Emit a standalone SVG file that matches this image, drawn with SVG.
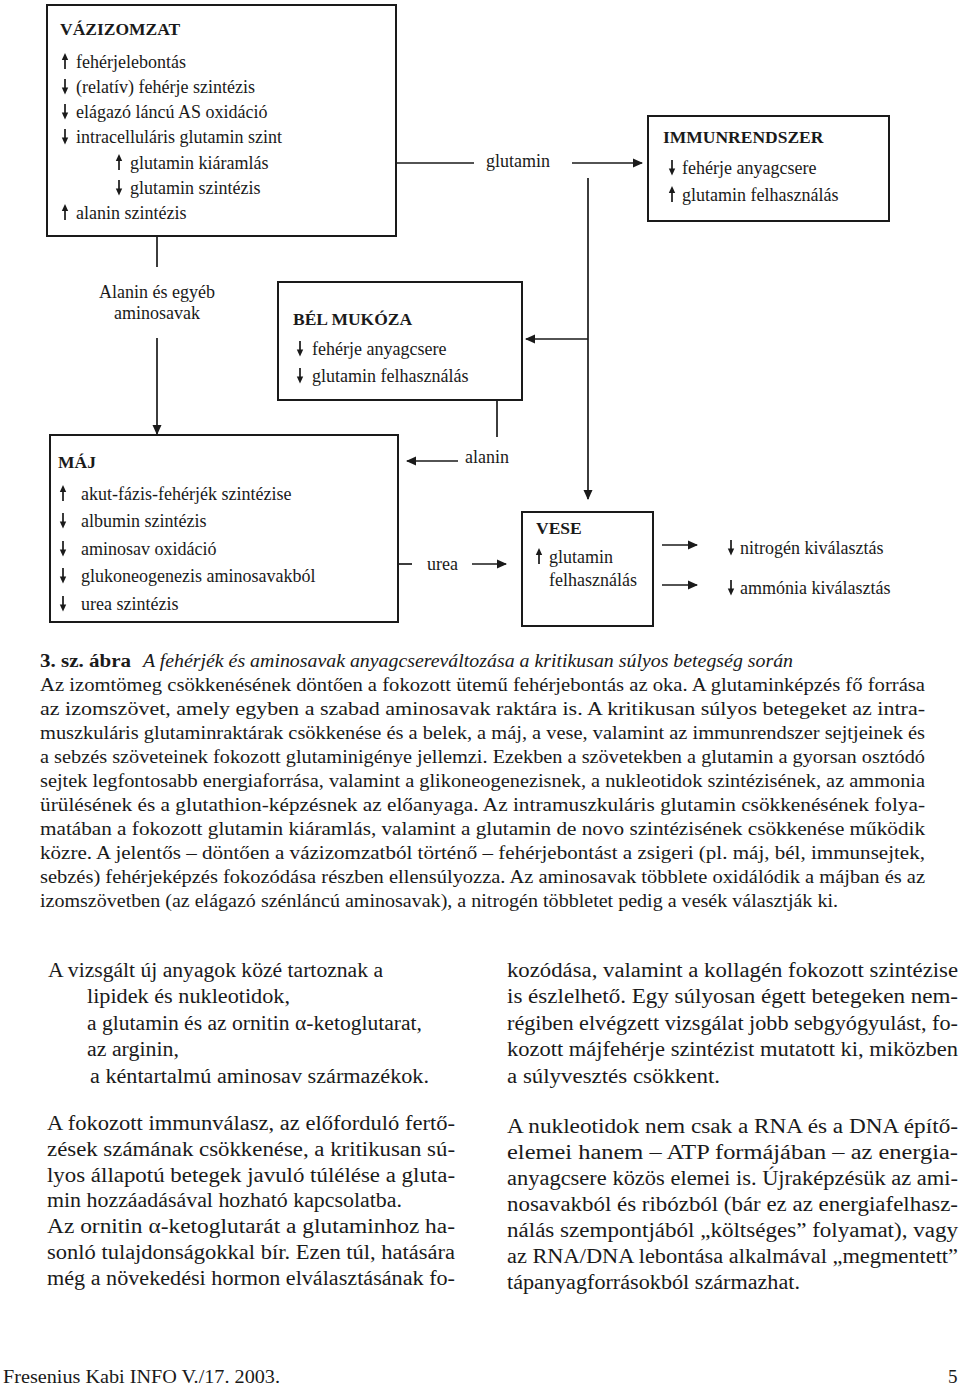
<svg xmlns="http://www.w3.org/2000/svg" width="960" height="1390" viewBox="0 0 960 1390">
<style>
.box{fill:none;stroke:#1a1a1a;stroke-width:2}
.ln{fill:none;stroke:#1a1a1a;stroke-width:1.7}
.t{font-family:"Liberation Serif","Times New Roman",serif;font-size:18px;fill:#1a1a1a}
.h{font-family:"Liberation Serif","Times New Roman",serif;font-size:17.5px;font-weight:bold;fill:#1a1a1a}
.cap{font-family:"Liberation Serif","Times New Roman",serif;font-size:18.5px;fill:#1a1a1a}
.col{font-family:"Liberation Serif","Times New Roman",serif;font-size:20.5px;fill:#1a1a1a}
.ft{font-family:"Liberation Serif","Times New Roman",serif;font-size:19px;fill:#1a1a1a}
</style>
<defs>
<marker id="ah" viewBox="0 0 10 10" refX="9" refY="5" markerWidth="11" markerHeight="10" markerUnits="userSpaceOnUse" orient="auto">
<path d="M0,0.5 L10,5 L0,9.5 Z" fill="#1a1a1a"/>
</marker>
<g id="up"><rect x="-0.85" y="-10" width="1.7" height="11" fill="#1a1a1a"/><path d="M0,-15 L3.2,-8 L-3.2,-8 Z" fill="#1a1a1a"/></g>
<g id="dn"><rect x="-0.85" y="-14" width="1.7" height="11" fill="#1a1a1a"/><path d="M0,1.5 L3.2,-5.5 L-3.2,-5.5 Z" fill="#1a1a1a"/></g>
</defs>

<g id="vazizomzat">
<rect class="box" x="47" y="5" width="349" height="231"/>
<text class="h" x="60" y="35">VÁZIZOMZAT</text>
<use href="#up" x="65" y="68"/><text class="t" x="76" y="68">fehérjelebontás</text>
<use href="#dn" x="65" y="93"/><text class="t" x="76" y="93">(relatív) fehérje szintézis</text>
<use href="#dn" x="65" y="118"/><text class="t" x="76" y="118">elágazó láncú AS oxidáció</text>
<use href="#dn" x="65" y="143"/><text class="t" x="76" y="143">intracelluláris glutamin szint</text>
<use href="#up" x="119" y="169"/><text class="t" x="130" y="169">glutamin kiáramlás</text>
<use href="#dn" x="119" y="194"/><text class="t" x="130" y="194">glutamin szintézis</text>
<use href="#up" x="65" y="219"/><text class="t" x="76" y="219">alanin szintézis</text>
</g>

<g id="immunrendszer">
<rect class="box" x="648" y="116" width="241" height="105"/>
<text class="h" x="663" y="143">IMMUNRENDSZER</text>
<use href="#dn" x="672" y="174"/><text class="t" x="682" y="174">fehérje anyagcsere</text>
<use href="#up" x="672" y="201"/><text class="t" x="682" y="201">glutamin felhasználás</text>
</g>

<g id="bel-mukoza">
<rect class="box" x="278" y="282" width="244" height="118"/>
<text class="h" x="293" y="325">BÉL MUKÓZA</text>
<use href="#dn" x="300" y="355"/><text class="t" x="312" y="355">fehérje anyagcsere</text>
<use href="#dn" x="300" y="382"/><text class="t" x="312" y="382">glutamin felhasználás</text>
</g>

<g id="maj">
<rect class="box" x="50" y="435" width="348" height="187"/>
<text class="h" x="58" y="468">MÁJ</text>
<use href="#up" x="63" y="500"/><text class="t" x="81" y="500">akut-fázis-fehérjék szintézise</text>
<use href="#dn" x="63" y="527"/><text class="t" x="81" y="527">albumin szintézis</text>
<use href="#dn" x="63" y="555"/><text class="t" x="81" y="555">aminosav oxidáció</text>
<use href="#dn" x="63" y="582"/><text class="t" x="81" y="582">glukoneogenezis aminosavakból</text>
<use href="#dn" x="63" y="610"/><text class="t" x="81" y="610">urea szintézis</text>
</g>

<g id="vese">
<rect class="box" x="522" y="512" width="131" height="114"/>
<text class="h" x="536" y="534">VESE</text>
<use href="#up" x="539" y="563"/><text class="t" x="549" y="563">glutamin</text>
<text class="t" x="549" y="586">felhasználás</text>
</g>

<g id="kivalasztas">
<use href="#dn" x="731" y="554"/><text class="t" x="740" y="554">nitrogén kiválasztás</text>
<use href="#dn" x="731" y="594"/><text class="t" x="740" y="594">ammónia kiválasztás</text>
</g>

<g id="connectors">
<line class="ln" x1="396" y1="163" x2="474" y2="163"/>
<text class="t" x="486" y="167">glutamin</text>
<line class="ln" x1="572" y1="163" x2="642" y2="163" marker-end="url(#ah)"/>
<line class="ln" x1="588" y1="178" x2="588" y2="499" marker-end="url(#ah)"/>
<line class="ln" x1="588" y1="339" x2="526" y2="339" marker-end="url(#ah)"/>
<line class="ln" x1="157" y1="236" x2="157" y2="267"/>
<text class="t" x="157" y="298" text-anchor="middle">Alanin és egyéb</text>
<text class="t" x="157" y="319" text-anchor="middle">aminosavak</text>
<line class="ln" x1="157" y1="338" x2="157" y2="434" marker-end="url(#ah)"/>
<line class="ln" x1="497" y1="400" x2="497" y2="437"/>
<text class="t" x="465" y="463">alanin</text>
<line class="ln" x1="458" y1="461" x2="407" y2="461" marker-end="url(#ah)"/>
<line class="ln" x1="398" y1="564" x2="412" y2="564"/>
<text class="t" x="427" y="570">urea</text>
<line class="ln" x1="472" y1="564" x2="506" y2="564" marker-end="url(#ah)"/>
<line class="ln" x1="662" y1="545" x2="697" y2="545" marker-end="url(#ah)"/>
<line class="ln" x1="662" y1="585" x2="697" y2="585" marker-end="url(#ah)"/>
</g>

<g id="caption">
<text class="cap" y="667"><tspan x="40" font-weight="bold" textLength="91" lengthAdjust="spacingAndGlyphs">3. sz. ábra</tspan><tspan x="143" font-style="italic" textLength="650" lengthAdjust="spacingAndGlyphs">A fehérjék és aminosavak anyagcsereváltozása a kritikusan súlyos betegség során</tspan></text>
<text class="cap" x="40" y="691" textLength="885" lengthAdjust="spacingAndGlyphs">Az izomtömeg csökkenésének döntően a fokozott ütemű fehérjebontás az oka. A glutaminképzés fő forrása</text>
<text class="cap" x="40" y="715" textLength="885" lengthAdjust="spacingAndGlyphs">az izomszövet, amely egyben a szabad aminosavak raktára is. A kritikusan súlyos betegeket az intra-</text>
<text class="cap" x="40" y="739" textLength="885" lengthAdjust="spacingAndGlyphs">muszkuláris glutaminraktárak csökkenése és a belek, a máj, a vese, valamint az immunrendszer sejtjeinek és</text>
<text class="cap" x="40" y="763" textLength="885" lengthAdjust="spacingAndGlyphs">a sebzés szöveteinek fokozott glutaminigénye jellemzi. Ezekben a szövetekben a glutamin a gyorsan osztódó</text>
<text class="cap" x="40" y="787" textLength="885" lengthAdjust="spacingAndGlyphs">sejtek legfontosabb energiaforrása, valamint a glikoneogenezisnek, a nukleotidok szintézisének, az ammonia</text>
<text class="cap" x="40" y="811" textLength="885" lengthAdjust="spacingAndGlyphs">ürülésének és a glutathion-képzésnek az előanyaga. Az intramuszkuláris glutamin csökkenésének folya-</text>
<text class="cap" x="40" y="835" textLength="885" lengthAdjust="spacingAndGlyphs">matában a fokozott glutamin kiáramlás, valamint a glutamin de novo szintézisének csökkenése működik</text>
<text class="cap" x="40" y="859" textLength="885" lengthAdjust="spacingAndGlyphs">közre. A jelentős – döntően a vázizomzatból történő – fehérjebontást a zsigeri (pl. máj, bél, immunsejtek,</text>
<text class="cap" x="40" y="883" textLength="885" lengthAdjust="spacingAndGlyphs">sebzés) fehérjeképzés fokozódása részben ellensúlyozza. Az aminosavak többlete oxidálódik a májban és az</text>
<text class="cap" x="40" y="907" textLength="798" lengthAdjust="spacingAndGlyphs">izomszövetben (az elágazó szénláncú aminosavak), a nitrogén többletet pedig a vesék választják ki.</text>
</g>

<g id="left-column">
<text class="col" x="48" y="977" textLength="335" lengthAdjust="spacingAndGlyphs">A vizsgált új anyagok közé tartoznak a</text>
<text class="col" x="87" y="1003" textLength="203" lengthAdjust="spacingAndGlyphs">lipidek és nukleotidok,</text>
<text class="col" x="87" y="1030" textLength="335" lengthAdjust="spacingAndGlyphs">a glutamin és az ornitin α-ketoglutarat,</text>
<text class="col" x="87" y="1056" textLength="92" lengthAdjust="spacingAndGlyphs">az arginin,</text>
<text class="col" x="90" y="1083" textLength="339" lengthAdjust="spacingAndGlyphs">a kéntartalmú aminosav származékok.</text>
<text class="col" x="47" y="1130" textLength="408" lengthAdjust="spacingAndGlyphs">A fokozott immunválasz, az előforduló fertő-</text>
<text class="col" x="47" y="1156" textLength="408" lengthAdjust="spacingAndGlyphs">zések számának csökkenése, a kritikusan sú-</text>
<text class="col" x="47" y="1182" textLength="408" lengthAdjust="spacingAndGlyphs">lyos állapotú betegek javuló túlélése a gluta-</text>
<text class="col" x="47" y="1207" textLength="355" lengthAdjust="spacingAndGlyphs">min hozzáadásával hozható kapcsolatba.</text>
<text class="col" x="47" y="1233" textLength="408" lengthAdjust="spacingAndGlyphs">Az ornitin α-ketoglutarát a glutaminhoz ha-</text>
<text class="col" x="47" y="1259" textLength="408" lengthAdjust="spacingAndGlyphs">sonló tulajdonságokkal bír. Ezen túl, hatására</text>
<text class="col" x="47" y="1285" textLength="408" lengthAdjust="spacingAndGlyphs">még a növekedési hormon elválasztásának fo-</text>
</g>

<g id="right-column">
<text class="col" x="507" y="977" textLength="451" lengthAdjust="spacingAndGlyphs">kozódása, valamint a kollagén fokozott szintézise</text>
<text class="col" x="507" y="1003" textLength="451" lengthAdjust="spacingAndGlyphs">is észlelhető. Egy súlyosan égett betegeken nem-</text>
<text class="col" x="507" y="1030" textLength="451" lengthAdjust="spacingAndGlyphs">régiben elvégzett vizsgálat jobb sebgyógyulást, fo-</text>
<text class="col" x="507" y="1056" textLength="451" lengthAdjust="spacingAndGlyphs">kozott májfehérje szintézist mutatott ki, miközben</text>
<text class="col" x="507" y="1083" textLength="213" lengthAdjust="spacingAndGlyphs">a  súlyvesztés csökkent.</text>
<text class="col" x="507" y="1133" textLength="451" lengthAdjust="spacingAndGlyphs">A nukleotidok nem csak a RNA és a DNA építő-</text>
<text class="col" x="507" y="1159" textLength="451" lengthAdjust="spacingAndGlyphs">elemei hanem – ATP formájában – az energia-</text>
<text class="col" x="507" y="1185" textLength="451" lengthAdjust="spacingAndGlyphs">anyagcsere közös elemei is. Újraképzésük az ami-</text>
<text class="col" x="507" y="1211" textLength="451" lengthAdjust="spacingAndGlyphs">nosavakból és ribózból (bár ez az energiafelhasz-</text>
<text class="col" x="507" y="1237" textLength="451" lengthAdjust="spacingAndGlyphs">nálás szempontjából „költséges” folyamat), vagy</text>
<text class="col" x="507" y="1263" textLength="451" lengthAdjust="spacingAndGlyphs">az RNA/DNA lebontása alkalmával „megmentett”</text>
<text class="col" x="507" y="1289" textLength="293" lengthAdjust="spacingAndGlyphs">tápanyagforrásokból származhat.</text>
</g>

<g id="footer">
<text class="ft" x="3" y="1383" textLength="277" lengthAdjust="spacingAndGlyphs">Fresenius Kabi INFO  V./17. 2003.</text>
<text class="ft" x="948" y="1383">5</text>
</g>
</svg>
